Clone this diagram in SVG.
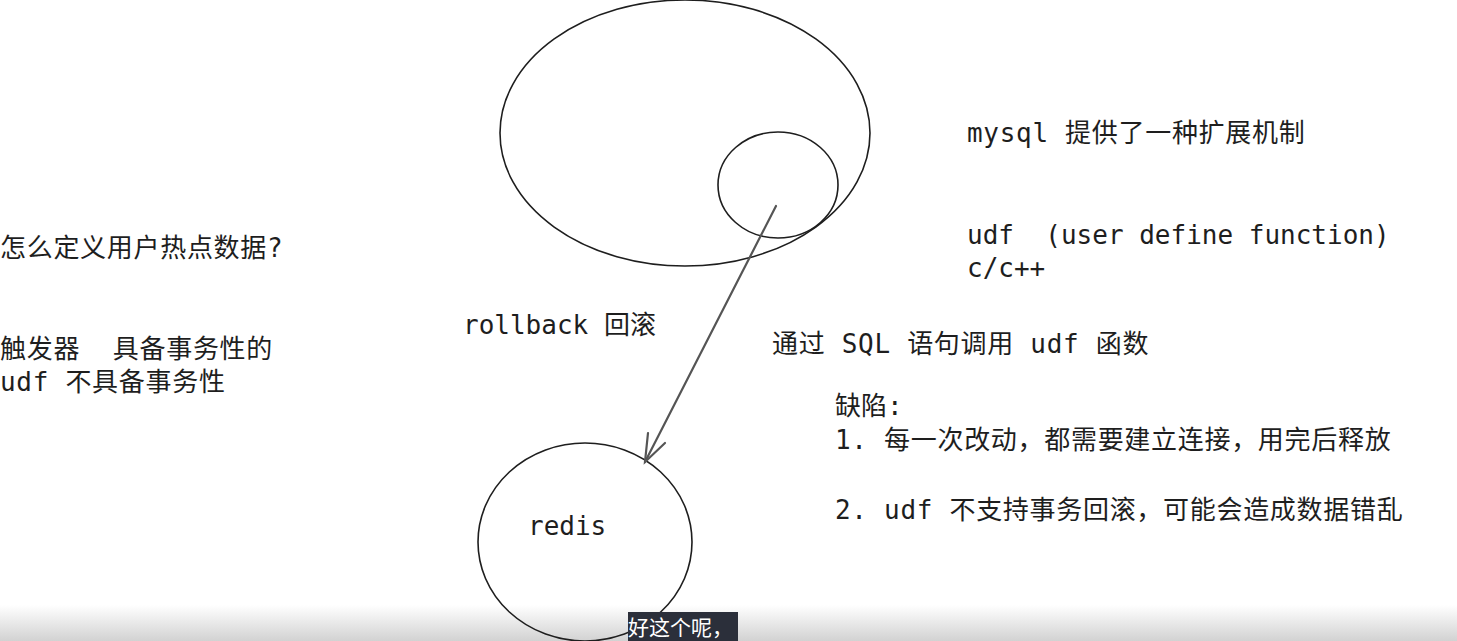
<svg xmlns="http://www.w3.org/2000/svg" width="1457" height="641" viewBox="0 0 1457 641">
<style>
.t{font-family:"DejaVu Sans Mono","Noto Sans CJK SC",monospace;font-size:26px;fill:#1e1e1e;white-space:pre}
.c{letter-spacing:0.7px}
.s{fill:none;stroke:#1e1e1e;stroke-width:1.6}
.a{fill:none;stroke:#555;stroke-width:2.2;stroke-linecap:round}
</style>
<defs>
<linearGradient id="bar" x1="0" y1="0" x2="0" y2="1">
<stop offset="0" stop-color="#ffffff"/>
<stop offset="1" stop-color="#d2d2d2"/>
</linearGradient>
</defs>
<rect width="1457" height="641" fill="#ffffff"/>
<rect x="0" y="605" width="1457" height="36" fill="url(#bar)"/>
<g id="mysql">
<ellipse class="s" cx="685" cy="133" rx="185" ry="133"/>
</g>
<g id="udf">
<ellipse class="s" cx="778" cy="185" rx="60" ry="53"/>
</g>
<g id="redis">
<ellipse class="s" cx="585" cy="542" rx="107" ry="99"/>
<text class="t" x="528" y="535">redis</text>
</g>
<g id="connectors">
<path class="a" d="M776 206 L645 462"/>
<path class="a" d="M648 433 L645 462 L665 443"/>
</g>
<g id="labels">
<text class="t" x="463" y="334">rollback 回滚</text>
<text class="t c" x="0" y="257">怎么定义用户热点数据?</text>
<text class="t c" x="0" y="358" xml:space="preserve">触发器  具备事务性的</text>
<text class="t c" x="0" y="391">udf 不具备事务性</text>
<text class="t c" x="967" y="142">mysql 提供了一种扩展机制</text>
<text class="t" x="967" y="244" xml:space="preserve">udf  (user define function)</text>
<text class="t" x="967" y="277">c/c++</text>
<text class="t c" x="772" y="353">通过 SQL 语句调用 udf 函数</text>
<text class="t" x="835" y="415">缺陷:</text>
<text class="t c" x="835" y="449">1. 每一次改动，都需要建立连接，用完后释放</text>
<text class="t c" x="835" y="519">2. udf 不支持事务回滚，可能会造成数据错乱</text>
</g>
<g id="caption">
<rect x="628" y="612" width="110" height="29" fill="#2b2f3a"/>
<text x="628" y="635" style="font-family:'Noto Sans CJK SC',sans-serif;font-size:21px;fill:#ffffff">好这个呢，</text>
</g>
</svg>
